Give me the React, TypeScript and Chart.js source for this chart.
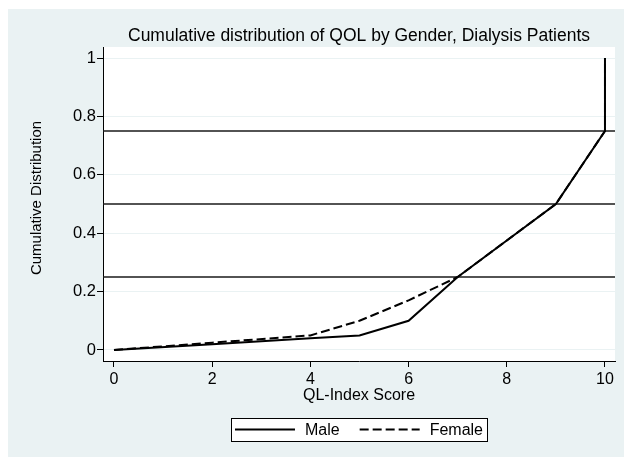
import React, { useEffect, useRef } from "react";
import { Chart, registerables } from "chart.js";

Chart.register(...registerables);

const TITLE = "Cumulative distribution of QOL by Gender, Dialysis Patients";
const X_LABEL = "QL-Index Score";
const Y_LABEL = "Cumulative Distribution";
const SERIES_NAMES = ["Male", "Female"];
const SCORES = [0, 2, 4, 5, 6, 7, 8, 9, 10, 10];
const MALE = [0, 0.02, 0.04, 0.05, 0.1, 0.25, 0.375, 0.5, 0.75, 1];
const FEMALE = [0, 0.025, 0.05, 0.1, 0.17, 0.25, 0.375, 0.5, 0.75, 1];
const X_TICKS = [0, 2, 4, 6, 8, 10];
const Y_TICKS = [0, 0.2, 0.4, 0.6, 0.8, 1];
const REF_LINES = [0.25, 0.5, 0.75];

const FONT = "'Liberation Sans', Arial, sans-serif";
const BG = "#EAF2F3";

const bgPlugin = {
  id: "stataBg",
  beforeDraw(chart: any) {
    const { ctx, chartArea: a, width, height } = chart;
    ctx.save();
    ctx.fillStyle = BG;
    ctx.fillRect(0, 0, width, height);
    ctx.fillStyle = "#ffffff";
    ctx.fillRect(a.left, a.top, a.right - a.left, a.bottom - a.top);
    ctx.restore();
  },
  beforeDatasetsDraw(chart: any) {
    const { ctx, chartArea: a, scales } = chart;
    ctx.save();
    ctx.strokeStyle = "#1a1a1a";
    ctx.lineWidth = 1.5;
    REF_LINES.forEach((v) => {
      const y = scales.y.getPixelForValue(v);
      ctx.beginPath();
      ctx.moveTo(a.left, y);
      ctx.lineTo(a.right, y);
      ctx.stroke();
    });
    ctx.restore();
  },
  afterDraw(chart: any) {
    const { ctx, chartArea: a } = chart;
    ctx.save();
    // title, centred over the plot region
    ctx.fillStyle = "#000";
    ctx.textAlign = "center";
    ctx.textBaseline = "middle";
    ctx.font = "17.5px " + FONT;
    ctx.fillText(TITLE, (a.left + a.right) / 2, a.top - 11);
    // y-axis title
    ctx.save();
    ctx.translate(29, (a.top + a.bottom) / 2 - 6);
    ctx.rotate(-Math.PI / 2);
    ctx.font = "15px " + FONT;
    ctx.fillText(Y_LABEL, 0, 0);
    ctx.restore();
    // legend box
    ctx.font = "16px " + FONT;
    const sym = 60;
    const gap = 10;
    const between = 20;
    const pad = 4;
    const dss = chart.data.datasets;
    const widths = dss.map((d: any) => ctx.measureText(d.label).width);
    let total = pad * 2;
    widths.forEach((w: number, i: number) => {
      total += sym + gap + w + (i > 0 ? between : 0);
    });
    const cx = (a.left + a.right) / 2;
    const left = cx - total / 2;
    const top = a.bottom + 57;
    const h = 23;
    ctx.fillStyle = "#ffffff";
    ctx.fillRect(left, top, total, h);
    ctx.strokeStyle = "#000";
    ctx.lineWidth = 1;
    ctx.strokeRect(Math.round(left) + 0.5, Math.round(top) + 0.5, Math.round(total), h);
    let x = left + pad;
    const cy = top + h / 2;
    dss.forEach((d: any, i: number) => {
      if (i > 0) x += between;
      ctx.beginPath();
      ctx.setLineDash(d.borderDash || []);
      ctx.lineWidth = 2;
      ctx.strokeStyle = "#000";
      ctx.moveTo(x, cy);
      ctx.lineTo(x + sym, cy);
      ctx.stroke();
      ctx.setLineDash([]);
      x += sym + gap;
      ctx.fillStyle = "#000";
      ctx.textBaseline = "middle";
      ctx.textAlign = "left";
      ctx.fillText(d.label, x, cy + 1);
      x += widths[i];
    });
    ctx.restore();
  },
};

export default function App() {
  const ref = useRef<HTMLCanvasElement | null>(null);
  useEffect(() => {
    if (!ref.current) return;
    const chart = new Chart(ref.current, {
      type: "scatter",
      data: {
        datasets: [
          {
            label: SERIES_NAMES[0],
            data: SCORES.map((x, i) => ({ x, y: MALE[i] })),
            showLine: true,
            borderColor: "#000",
            backgroundColor: "#000",
            borderWidth: 2,
            pointRadius: 0,
            tension: 0,
          },
          {
            label: SERIES_NAMES[1],
            data: SCORES.map((x, i) => ({ x, y: FEMALE[i] })),
            showLine: true,
            borderColor: "#000",
            backgroundColor: "#000",
            borderWidth: 2,
            borderDash: [9, 4],
            pointRadius: 0,
            tension: 0,
          },
        ],
      },
      options: {
        responsive: false,
        animation: false,
        layout: { padding: { left: 0, right: 9, top: 38, bottom: 48 } },
        plugins: {
          legend: { display: false },
          tooltip: { enabled: false },
          title: { display: false },
        },
        scales: {
          x: {
            type: "linear",
            min: -0.224,
            max: 10.204,
            afterBuildTicks: (s: any) => {
              s.ticks = X_TICKS.map((v) => ({ value: v }));
            },
            afterFit: (s: any) => {
              s.height = 48;
            },
            ticks: {
              color: "#000",
              font: { family: FONT, size: 16 },
              padding: 3,
              maxRotation: 0,
              autoSkip: false,
              callback: (v: any) => String(v),
            },
            grid: {
              display: true,
              drawOnChartArea: false,
              tickLength: 6,
              tickColor: "#000",
              tickWidth: 1,
            },
            border: { display: true, color: "#000", width: 1 },
            title: {
              display: true,
              text: X_LABEL,
              color: "#000",
              font: { family: FONT, size: 16 },
              padding: { top: 0, bottom: 3.4 },
            },
          },
          y: {
            type: "linear",
            min: -0.0377,
            max: 1.0377,
            afterBuildTicks: (s: any) => {
              s.ticks = Y_TICKS.map((v) => ({ value: v }));
            },
            afterFit: (s: any) => {
              s.width = 95;
            },
            ticks: {
              color: "#000",
              font: { family: FONT, size: 16.5 },
              padding: 1,
              autoSkip: false,
              callback: (v: any) => String(Math.round(v * 10) / 10),
            },
            grid: {
              display: true,
              drawOnChartArea: true,
              color: BG,
              lineWidth: 1,
              tickLength: 6,
              tickColor: "#000",
              tickWidth: 1,
            },
            border: { display: true, color: "#000", width: 1 },
            title: { display: false },
          },
        },
      },
      plugins: [bgPlugin],
    });
    return () => chart.destroy();
  }, []);
  return (
    <div style={{ position: "absolute", left: 8, top: 9 }}>
      <canvas ref={ref} width={616} height={448} style={{ display: "block" }} />
    </div>
  );
}
